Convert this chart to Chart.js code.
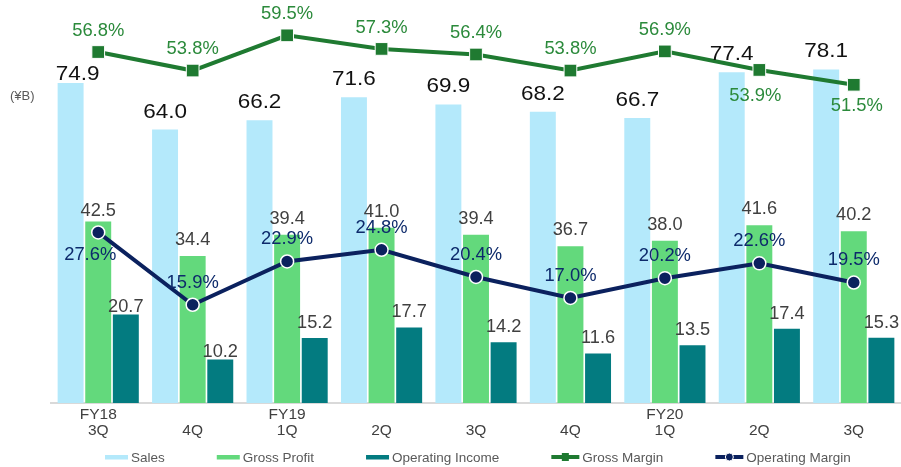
<!DOCTYPE html>
<html lang="en">
<head>
    <meta charset="UTF-8">
    <title>Quarterly Sales and Margins</title>
    <script src="https://cdn.jsdelivr.net/npm/chart.js@4/dist/chart.umd.min.js"></script>
    <style>
        body { margin: 0; background: #fff; }
        #wrap { width: 901px; height: 467px; position: relative; }
    </style>
</head>
<body>
<div id="wrap"><canvas id="myChart"></canvas></div>

<script>
    var quarters = [["FY18", "3Q"], ["", "4Q"], ["FY19", "1Q"], ["", "2Q"], ["", "3Q"], ["", "4Q"], ["FY20", "1Q"], ["", "2Q"], ["", "3Q"]];
    var sales = [74.9, 64.0, 66.2, 71.6, 69.9, 68.2, 66.7, 77.4, 78.1];
    var grossProfit = [42.5, 34.4, 39.4, 41.0, 39.4, 36.7, 38.0, 41.6, 40.2];
    var operatingIncome = [20.7, 10.2, 15.2, 17.7, 14.2, 11.6, 13.5, 17.4, 15.3];
    var grossMargin = [56.8, 53.8, 59.5, 57.3, 56.4, 53.8, 56.9, 53.9, 51.5];
    var operatingMargin = [27.6, 15.9, 22.9, 24.8, 20.4, 17.0, 20.2, 22.6, 19.5];

    var FONT = "'Liberation Sans', Arial, sans-serif";

    // where each label sits (not data): bar labels above the bar, margin labels above/below point
    var labelStyle = {
      0: { color: "#111111", size: 21, sx: 1.07, gap: 12, nudge: { 0: [7, 9] } },
      1: { color: "#404040", size: 17.5, sx: 1.04, gap: 11, nudge: { 0: [0, 6] } },
      2: { color: "#404040", size: 17.5, sx: 1.04, gap: 10, nudge: { 0: [0, 7], 1: [0, 8] } },
      3: { color: "#2b8a3b", size: 17.5, sx: 1.05, off: -21, below: { 7: [-4, 26], 8: [3, 21] } },
      4: { color: "#0d2a6b", size: 17.5, sx: 1.05, off: -22, below: { 0: [-8, 23] } }
    };

    function stretchedText(ctx, txt, x, y, sx) {
      ctx.save();
      ctx.translate(x, y);
      ctx.scale(sx, 1);
      ctx.fillText(txt, 0, 0);
      ctx.restore();
    }

    var valueLabels = {
      id: "valueLabels",
      afterDatasetsDraw: function(chart) {
        var ctx = chart.ctx;
        chart.data.datasets.forEach(function(ds, di) {
          var st = labelStyle[di];
          var meta = chart.getDatasetMeta(di);
          ctx.fillStyle = st.color;
          ctx.font = st.size + "px " + FONT;
          ctx.textAlign = "center";
          meta.data.forEach(function(el, i) {
            var v = ds.data[i];
            if (di < 3) {
              var n = (st.nudge && st.nudge[i]) || [0, 0];
              ctx.textBaseline = "alphabetic";
              stretchedText(ctx, v.toFixed(1), el.x + n[0], el.y - st.gap + n[1], st.sx);
            } else {
              var b = st.below[i];
              ctx.textBaseline = "middle";
              var dx = b ? b[0] : 0, dy = b ? b[1] : st.off;
              stretchedText(ctx, v.toFixed(1) + "%", el.x + dx, el.y + dy, st.sx);
            }
          });
        });
      }
    };

    // unit note and legend along the bottom
    var extras = {
      id: "extras",
      afterDraw: function(chart) {
        var ctx = chart.ctx;
        ctx.save();
        ctx.fillStyle = "#595959";
        ctx.font = "13px " + FONT;
        ctx.textAlign = "left";
        ctx.textBaseline = "middle";
        ctx.fillText("(\u00a5B)", 10, 96);

        var items = [
          { text: "Sales", kind: "bar", color: "#b4e9fb" },
          { text: "Gross Profit", kind: "bar", color: "#63d97c" },
          { text: "Operating Income", kind: "bar", color: "#037b80" },
          { text: "Gross Margin", kind: "rect", color: "#1f7a31" },
          { text: "Operating Margin", kind: "circle", color: "#0b215e" }
        ];
        var x = 105, y = 457;
        ctx.font = "13.5px " + FONT;
        items.forEach(function(it) {
          var w = it.kind === "bar" ? 23 : 28;
          ctx.fillStyle = it.color;
          if (it.kind === "bar") {
            ctx.fillRect(x, y - 2, w, 4.5);
          } else {
            ctx.fillRect(x, y - 2, w, 4);
            if (it.kind === "rect") {
              ctx.fillRect(x + w / 2 - 3.5, y - 4, 7, 8);
            } else {
              ctx.beginPath();
              ctx.arc(x + w / 2, y, 4, 0, Math.PI * 2);
              ctx.fill();
              ctx.strokeStyle = "#ffffff";
              ctx.lineWidth = 1;
              ctx.stroke();
            }
          }
          ctx.fillStyle = "#595959";
          ctx.fillText(it.text, x + w + 3, y + 1);
          x += w + 3 + ctx.measureText(it.text).width + 52;
        });
        ctx.restore();
      }
    };

    var ctx = document.getElementById("myChart").getContext("2d");

    var myChart = new Chart(ctx, {
      data: {
        labels: quarters,
        datasets: [
          { type: "bar", label: "Sales", data: sales, backgroundColor: "#b4e9fb", yAxisID: "y", order: 2 },
          { type: "bar", label: "Gross Profit", data: grossProfit, backgroundColor: "#63d97c", yAxisID: "y", order: 2 },
          { type: "bar", label: "Operating Income", data: operatingIncome, backgroundColor: "#037b80", yAxisID: "y", order: 2 },
          {
            type: "line", label: "Gross Margin", data: grossMargin, yAxisID: "y1", order: 1,
            borderColor: "#1f7a31", borderWidth: 4, pointStyle: "rect", pointRadius: 9,
            pointBackgroundColor: "#1f7a31", pointBorderColor: "#ffffff", pointBorderWidth: 1
          },
          {
            type: "line", label: "Operating Margin", data: operatingMargin, yAxisID: "y1", order: 0,
            borderColor: "#0b215e", borderWidth: 4, pointStyle: "circle", pointRadius: 6.5,
            pointBackgroundColor: "#0b215e", pointBorderColor: "#ffffff", pointBorderWidth: 1.5
          }
        ]
      },
      options: {
        responsive: true,
        maintainAspectRatio: false,
        animation: false,
        layout: { autoPadding: false, padding: { left: 51, right: 0, top: 10, bottom: 25 } },
        datasets: {
          bar: { categoryPercentage: 0.877, barPercentage: 0.94 }
        },
        plugins: {
          legend: { display: false },
          tooltip: { enabled: false }
        },
        scales: {
          x: {
            grid: { display: false, drawTicks: false },
            border: { color: "#d9d9d9", width: 2 },
            ticks: { color: "#404040", padding: 4, font: { family: FONT, size: 15.5, lineHeight: 1.0 } }
          },
          y: { display: false, min: 0, max: 92 },
          y1: { display: false, min: 0, max: 63.6 }
        }
      },
      plugins: [valueLabels, extras]
    });
</script>
</body>
</html>
